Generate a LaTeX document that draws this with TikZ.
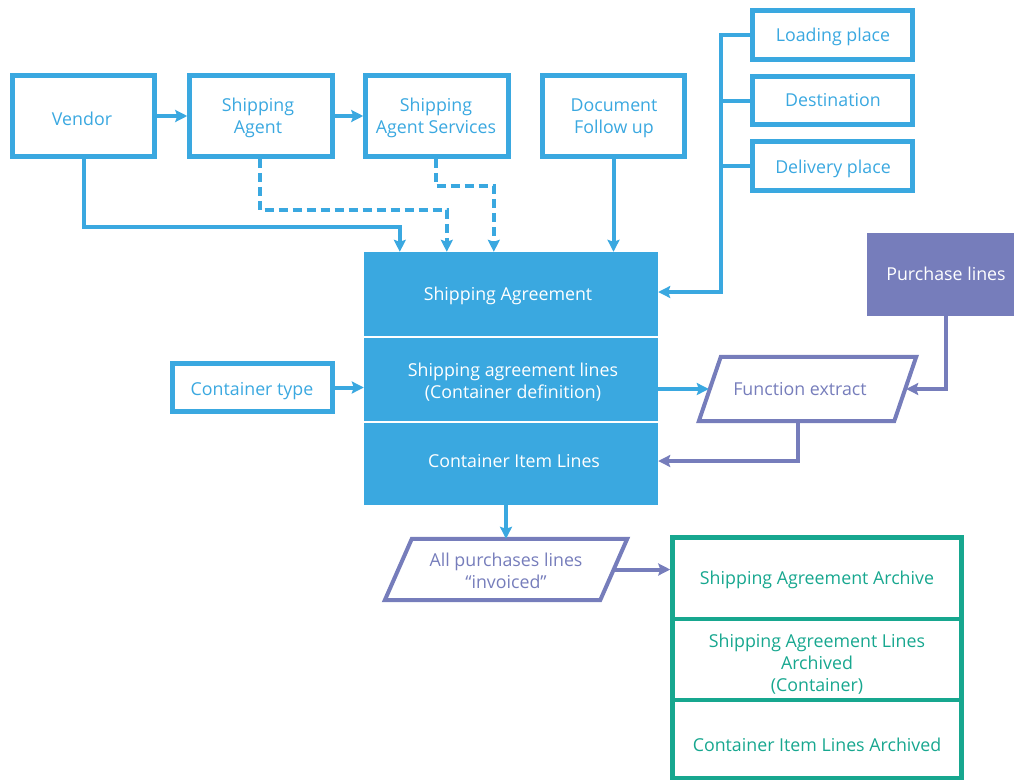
\documentclass[tikz,border=0pt]{standalone}
\usepackage{fontspec}
\setmainfont{Open Sans}
\usetikzlibrary{arrows.meta,calc}
\definecolor{cblue}{HTML}{3AA8E0}
\definecolor{cpurple}{HTML}{767DBB}
\definecolor{cgreen}{HTML}{17A78F}
\begin{document}
\begin{tikzpicture}[x=1pt,y=-1pt,
  every node/.style={font=\fontsize{17.8}{22}\selectfont, align=center, inner sep=0pt},
  bbox/.style={draw=cblue, line width=4.5pt},
  btxt/.style={text=cblue},
  mainbox/.style={fill=cblue, minimum width=294pt},
  wtxt/.style={text=white},
  gbox/.style={draw=cgreen, line width=4.5pt, minimum width=289pt},
  gtxt/.style={text=cgreen},
  ptxt/.style={text=cpurple},
  parashape/.style={draw=cpurple, line width=4pt, line join=miter},
  conn/.style={line width=4pt, cblue},
  arr/.style={conn, -{Stealth[length=12pt,width=12pt,inset=2pt]}},
  darr/.style={arr, dash pattern=on 9pt off 5pt},
  parr/.style={line width=4pt, cpurple, -{Stealth[length=12pt,width=12pt,inset=2pt]}}
]
\useasboundingbox (0,0) rectangle (1014,782);

% top row
\node[bbox, minimum width=142pt, minimum height=81pt] (vendor) at (83.5,116) {};
\node[btxt] (vendort) at (82,119) {Vendor};
\node[bbox, minimum width=143pt, minimum height=81pt] (agent) at (261,116) {};
\node[btxt] (agentt) at (258,118) {Shipping\\Agent};
\node[bbox, minimum width=143pt, minimum height=81pt] (services) at (437,116) {};
\node[btxt] (servicest) at (436,118) {Shipping\\Agent Services};
\node[bbox, minimum width=142pt, minimum height=81pt] (docfu) at (613.5,116) {};
\node[btxt] (docfut) at (614,118) {Document\\Follow up};

% places
\node[bbox, minimum width=160pt, minimum height=49pt] (loading) at (832.5,35) {};
\node[btxt] (loadingt) at (833,37) {Loading place};
\node[bbox, minimum width=160pt, minimum height=48pt] (destination) at (832.5,100.5) {};
\node[btxt] (destinationt) at (833,100) {Destination};
\node[bbox, minimum width=160pt, minimum height=49pt] (delivery) at (832.5,166) {};
\node[btxt] (deliveryt) at (833,169) {Delivery place};

% purchase lines
\node[fill=cpurple, minimum width=147pt, minimum height=83pt] (purchase) at (940.5,274.5) {};
\node[wtxt] (purchaset) at (946,274) {Purchase lines};

% main stack
\node[mainbox, minimum height=84pt] (sa) at (511,294) {};
\node[wtxt] (sat) at (508,296) {Shipping Agreement};
\node[mainbox, minimum height=83pt] (sal) at (511,379.5) {};
\node[wtxt] (salt) at (513,382) {Shipping agreement lines\\(Container definition)};
\node[mainbox, minimum height=82pt] (cil) at (511,464) {};
\node[wtxt] (cilt) at (514,461) {Container Item Lines};

% container type
\node[bbox, minimum width=160pt, minimum height=48pt] (ctype) at (252.5,387.5) {};
\node[btxt] (ctypet) at (252,391) {Container type};

% parallelograms (bounding nodes + drawn outline)
\node[minimum width=217pt, minimum height=64pt] (fe) at (807.5,389) {};
\draw[parashape] (fe.south west) -- ([xshift=22pt]fe.north west) -- (fe.north east) -- ([xshift=-22pt]fe.south east) -- cycle;
\node[ptxt] (fet) at (800,389) {Function extract};

\node[minimum width=242pt, minimum height=61pt] (apl) at (506,569.5) {};
\draw[parashape] (apl.south west) -- ([xshift=27pt]apl.north west) -- (apl.north east) -- ([xshift=-27pt]apl.south east) -- cycle;
\node[ptxt] (aplt) at (506,571) {All purchases lines\\“invoiced”};

% archive stack
\node[gbox, minimum height=81.5pt] (arch1) at (817,578.25) {};
\node[gtxt] (arch1t) at (817,580) {Shipping Agreement Archive};
\node[gbox, minimum height=81pt] (arch2) at (817,659.5) {};
\node[gtxt] (arch2t) at (817,664) {Shipping Agreement Lines\\Archived\\(Container)};
\node[gbox, minimum height=78pt] (arch3) at (817,739) {};
\node[gtxt] (arch3t) at (817,745) {Container Item Lines Archived};

% connectors
\draw[arr] (vendor.east) -- (agent.west);
\draw[arr] (agent.east) -- (services.west);
\draw[arr] (vendor.south) -- ++(0,68.5) -| ([xshift=36pt]sa.north west);
\draw[darr] ([xshift=-1pt]agent.south) -- ++(0,51.5) -| ([xshift=83pt]sa.north west);
\draw[darr] ([xshift=-1pt]services.south) -- ++(0,27.5) -| ([xshift=130pt]sa.north west);
\draw[arr] (docfu.south) -- (docfu.south |- sa.north);

\coordinate (tk) at (721,292);
\draw[arr] (loading.west) -| (tk) -- (tk -| sa.east);
\draw[conn] (destination.west) -- (destination.west -| tk);
\draw[conn] (delivery.west) -- (delivery.west -| tk);

\draw[arr] (ctype.east) -- (ctype.east -| sal.west);
\draw[arr] (sal.east |- fe.west) -- ([xshift=10pt]fe.west);
\draw[parr] ([xshift=5pt]purchase.south) |- ([xshift=-10pt]fe.east);
\draw[parr] ([xshift=-10pt]fe.south) |- ([yshift=3pt]cil.east);
\draw[arr] (apl.north |- cil.south) -- (apl.north);
\coordinate (aple) at ([xshift=-12pt]apl.east);
\draw[parr] (aple) -- (aple -| arch1.west);
\end{tikzpicture}
\end{document}
